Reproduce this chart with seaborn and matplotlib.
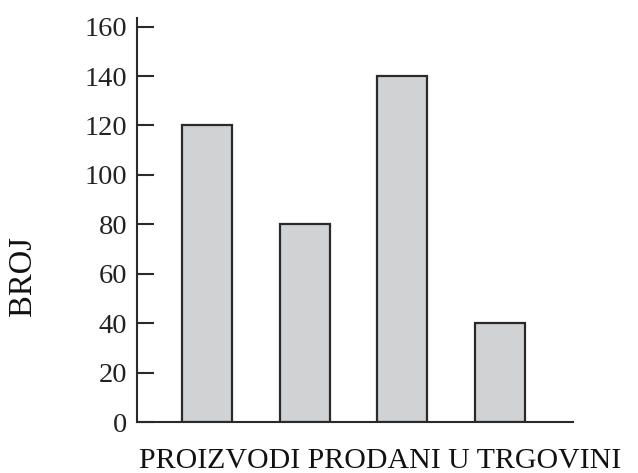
import matplotlib
matplotlib.use("Agg")
import matplotlib.pyplot as plt
import seaborn as sns
import pandas as pd

categories = ["P1", "P2", "P3", "P4"]
values = [120, 80, 140, 40]
y_ticks = [0, 20, 40, 60, 80, 100, 120, 140, 160]

sns.set_theme(style="white")
plt.rcParams["font.family"] = ["Liberation Serif", "DejaVu Serif"]

df = pd.DataFrame({"cat": categories, "val": values})

fig = plt.figure(figsize=(6.38, 4.73), dpi=100)
ax = fig.add_axes([137/638, 1 - 422/473, (573 - 137)/638, (422 - 18)/473])

sns.barplot(data=df, x="cat", y="val", ax=ax, color="#d1d2d4",
            edgecolor="#2a2a2a", linewidth=1.6, width=0.51, saturation=1)

ax.set_xlim(-0.72, 3.75)
ax.set_ylim(0, 163.5)
ax.set_yticks(y_ticks)
ax.set_yticklabels([str(t) for t in y_ticks])
ax.set_xticks([])
ax.tick_params(axis="y", direction="in", length=12.5, width=1.5, color="#2a2a2a",
               pad=7, labelsize=20.5, labelcolor="#222222", left=True)
for s in ["top", "right"]:
    ax.spines[s].set_visible(False)
for s in ["left", "bottom"]:
    ax.spines[s].set_color("#2a2a2a")
    ax.spines[s].set_linewidth(1.5)

ax.set_xlabel("PROIZVODI PRODANI U TRGOVINI", fontsize=21.5, color="#111111")
ax.set_ylabel("BROJ", fontsize=23.5, color="#111111")
ax.xaxis.set_label_coords((380 - 137)/436, -(461 - 422)/404, transform=ax.transAxes)
ax.yaxis.set_label_coords(-(137 - 23)/436, (422 - 276)/404, transform=ax.transAxes)
ax.xaxis.label.set_verticalalignment("center")
ax.yaxis.label.set_verticalalignment("center")

fig.savefig("out.png", dpi=100)
